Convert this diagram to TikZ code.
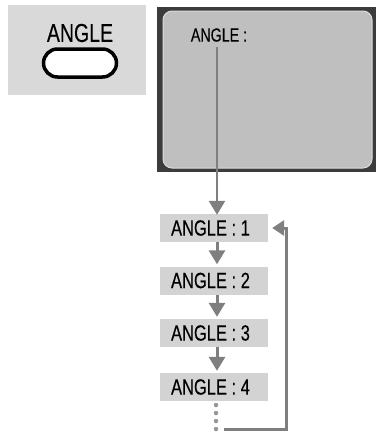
\documentclass[tikz,border=0pt]{standalone}
\usepackage{fontspec}
\newfontfamily\cf[FakeStretch=0.75,FakeBold=0.3]{Liberation Sans}
\usetikzlibrary{arrows.meta,calc}
\definecolor{panelgray}{HTML}{D9D9D9}
\definecolor{framegray}{HTML}{3C3C3C}
\definecolor{screengray}{HTML}{BFBFBF}
\definecolor{screenedge}{HTML}{DCDCDC}
\definecolor{boxgray}{HTML}{D3D3D3}
\definecolor{arrowgray}{HTML}{7F7F7F}
\definecolor{dotgray}{HTML}{959595}
\tikzset{
  listbox/.style={fill=boxgray, minimum width=108pt, minimum height=28pt, inner sep=0pt, font=\cf\fontsize{22}{24}\selectfont},
  flow/.style={draw=arrowgray, line width=3pt, -{Triangle[width=16pt,length=14pt]}},
  retline/.style={draw=arrowgray, line width=3pt, -{Triangle[width=15pt,length=12pt]}},
  dotmark/.style={circle, fill=dotgray, inner sep=0pt, minimum size=4.5pt},
}
\begin{document}
\begin{tikzpicture}[x=1pt,y=-1pt]
\useasboundingbox (0,0) rectangle (376,432);
% left panel with button
\fill[panelgray] (8,5) rectangle (146,95);
\node[font=\cf\fontsize{26}{28}\selectfont, inner sep=0pt] (lbl) at (80,33) {ANGLE};
\node[draw=black, line width=3.5pt, fill=white, rounded corners=14pt, minimum width=73pt, minimum height=28pt, inner sep=0pt] (btn) at (80,63) {};
% screen
\fill[framegray] (157,7) rectangle (376,172);
\filldraw[fill=screengray, draw=screenedge, line width=1pt, rounded corners=9pt] (163,11) rectangle (372,168);
\node[font=\cf\fontsize{19}{21}\selectfont, inner sep=0pt] (scr) at (219,35) {ANGLE :};
\coordinate (top) at (217,47);
% list
\node[listbox] (b1) at (214,228) {\hspace*{-7pt}ANGLE : 1};
\node[listbox] (b2) at (214,280.5) {\hspace*{-7pt}ANGLE : 2};
\node[listbox] (b3) at (214,333) {\hspace*{-7pt}ANGLE : 3};
\node[listbox] (b4) at (214,387) {\hspace*{-7pt}ANGLE : 4};
\draw[flow, line width=2.6pt] (top) -- ([yshift=-1pt]b1.north -| top);
\draw[flow] (b1.south -| top) -- ([yshift=2pt]b2.north -| top);
\draw[flow] (b2.south -| top) -- ([yshift=2pt]b3.north -| top);
\draw[flow] (b3.south -| top) -- ([yshift=2pt]b4.north -| top);
% dots
\node[dotmark] (d1) at (216,405) {};
\node[dotmark] (d2) at (216,413) {};
\node[dotmark] (d3) at (216,421) {};
\node[dotmark] (d4) at (216,429) {};
% return
\coordinate (rs) at (224,429);
\coordinate (rc) at (286,429);
\draw[retline] (rs) -- (rc) |- ([xshift=4pt]b1.east);
\end{tikzpicture}
\end{document}
